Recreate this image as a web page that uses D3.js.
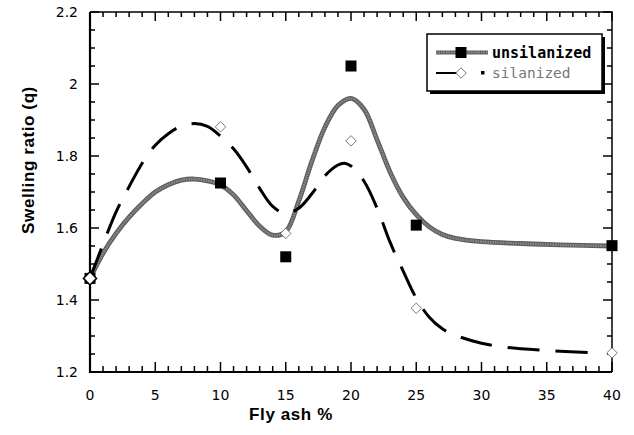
<!DOCTYPE html>
<html>
<head>
<meta charset="utf-8">
<script src="https://cdn.jsdelivr.net/npm/d3@7"></script>
<style>
body { margin: 0; background: #fff; }
svg { display: block; }
.tick-label { font-family: "DejaVu Sans", sans-serif; font-size: 14px; fill: #000; }
.axis-title { font-family: "Liberation Sans", Arial, sans-serif; font-size: 17px; font-weight: bold; letter-spacing: 0.6px; }
</style>
</head>
<body>
<svg id="chart" width="634" height="435"></svg>
<script>
// measured points (fly ash %, swelling ratio)
var flyAsh = [0, 10, 15, 20, 25, 40];
var unsilanized = [1.46, 1.725, 1.52, 2.05, 1.608, 1.551];
var silanized = [1.46, 1.881, 1.585, 1.842, 1.377, 1.253];

// fitted curves
var unsilCurveX = [0, 1, 2, 3, 4, 5, 6, 7, 8, 9, 10, 11, 12, 13, 14, 15, 16, 17, 18, 19, 20, 21, 22, 23, 24, 25, 26, 27, 28, 30, 33, 36, 40];
var unsilCurveY = [1.46, 1.53, 1.585, 1.63, 1.668, 1.70, 1.72, 1.733, 1.736, 1.731, 1.72, 1.692, 1.648, 1.605, 1.58, 1.59, 1.675, 1.785, 1.88, 1.94, 1.96, 1.93, 1.845, 1.755, 1.685, 1.637, 1.603, 1.582, 1.571, 1.562, 1.557, 1.553, 1.55];
var silCurveX = [0, 1, 2, 3, 4, 5, 6, 7, 8, 9, 10, 11, 12, 13, 14, 15, 16, 17, 18, 19, 19.5, 20, 21, 22, 23, 24, 25, 26, 27, 28, 30, 32, 35, 38.4];
var silCurveY = [1.46, 1.555, 1.645, 1.715, 1.78, 1.83, 1.862, 1.883, 1.89, 1.882, 1.855, 1.82, 1.77, 1.71, 1.66, 1.64, 1.655, 1.695, 1.745, 1.775, 1.78, 1.772, 1.73, 1.655, 1.56, 1.48, 1.405, 1.352, 1.32, 1.302, 1.28, 1.268, 1.26, 1.254];

var xTicks = [0, 5, 10, 15, 20, 25, 30, 35, 40];
var yTicks = [1.2, 1.4, 1.6, 1.8, 2, 2.2];

var svg = d3.select("#chart");

var x = d3.scaleLinear().domain([0, 40]).range([90, 612]);
var y = d3.scaleLinear().domain([1.2, 2.2]).range([372, 12]);

var xMinor = d3.range(0, 41, 1).filter(function(d) { return d % 5 != 0; });
var yMinor = d3.range(24, 45, 1).map(function(d) { return d / 20; })
    .filter(function(d) { return Math.abs(d * 5 - Math.round(d * 5)) > 1e-6; });

// ticks on all four sides
var ax = svg.append("g").attr("stroke", "#000").attr("stroke-width", 1.5);
xTicks.forEach(function(d) {
    ax.append("line").attr("x1", x(d)).attr("x2", x(d)).attr("y1", 372).attr("y2", 362);
    ax.append("line").attr("x1", x(d)).attr("x2", x(d)).attr("y1", 12).attr("y2", 21);
});
xMinor.forEach(function(d) {
    ax.append("line").attr("x1", x(d)).attr("x2", x(d)).attr("y1", 372).attr("y2", 366);
    ax.append("line").attr("x1", x(d)).attr("x2", x(d)).attr("y1", 12).attr("y2", 17);
});
yTicks.forEach(function(d) {
    ax.append("line").attr("x1", 90).attr("x2", 99).attr("y1", y(d)).attr("y2", y(d));
    ax.append("line").attr("x1", 612).attr("x2", 603).attr("y1", y(d)).attr("y2", y(d));
});
yMinor.forEach(function(d) {
    ax.append("line").attr("x1", 90).attr("x2", 95).attr("y1", y(d)).attr("y2", y(d));
    ax.append("line").attr("x1", 612).attr("x2", 607).attr("y1", y(d)).attr("y2", y(d));
});

// frame
svg.append("path")
    .attr("d", "M90,12H612V372")
    .attr("fill", "none").attr("stroke", "#000").attr("stroke-width", 1.5);
svg.append("path")
    .attr("d", "M90,12V372H612")
    .attr("fill", "none").attr("stroke", "#000").attr("stroke-width", 2.2);

// tick labels
svg.selectAll("text.xl").data(xTicks).enter().append("text")
    .attr("class", "tick-label")
    .attr("x", function(d) { return x(d); })
    .attr("y", 400)
    .attr("text-anchor", "middle")
    .text(function(d) { return d; });

svg.selectAll("text.yl").data(yTicks).enter().append("text")
    .attr("class", "tick-label")
    .attr("x", 78)
    .attr("y", function(d) { return y(d) + 5; })
    .attr("text-anchor", "end")
    .text(function(d) { return d; });

svg.append("text").attr("class", "axis-title")
    .attr("x", 291).attr("y", 420).attr("text-anchor", "middle")
    .text("Fly ash %");
svg.append("text").attr("class", "axis-title")
    .attr("transform", "translate(34,160) rotate(-90)")
    .attr("text-anchor", "middle")
    .text("Swelling ratio (q)");

var line = d3.line()
    .x(function(d) { return x(d[0]); })
    .y(function(d) { return y(d[1]); })
    .curve(d3.curveCatmullRom.alpha(0.5));

var unsilPts = unsilCurveX.map(function(d, i) { return [d, unsilCurveY[i]]; });
var silPts = silCurveX.map(function(d, i) { return [d, silCurveY[i]]; });

// unsilanized: thick grey
svg.append("path").datum(unsilPts)
    .attr("d", line).attr("fill", "none")
    .attr("stroke", "#5e5e5e").attr("stroke-width", 4.8);
svg.append("path").datum(unsilPts)
    .attr("d", line).attr("fill", "none")
    .attr("stroke", "#8c8c8c").attr("stroke-width", 2.4)
    .attr("stroke-dasharray", "1.5,1");

// silanized: long dashes
svg.append("path").datum(silPts)
    .attr("d", line).attr("fill", "none")
    .attr("stroke", "#000").attr("stroke-width", 3)
    .attr("stroke-dasharray", "32,16");

// markers
var sq = 11;
svg.selectAll("rect.sq").data(flyAsh).enter().append("rect")
    .attr("x", function(d) { return x(d) - sq / 2; })
    .attr("y", function(d, i) { return y(unsilanized[i]) - sq / 2; })
    .attr("width", sq).attr("height", sq)
    .attr("fill", "#000");

var diamond = d3.symbol().type(d3.symbolDiamond2).size(70);
svg.selectAll("path.dm").data(flyAsh).enter().append("path")
    .attr("transform", function(d, i) { return "translate(" + x(d) + "," + y(silanized[i]) + ")"; })
    .attr("d", function(d, i) { return i == 0 ? d3.symbol().type(d3.symbolDiamond2).size(110)() : diamond(); })
    .attr("fill", "#fff")
    .attr("stroke", function(d, i) { return i == 0 ? "#000" : "#555"; })
    .attr("stroke-width", function(d, i) { return i == 0 ? 1.5 : 0.8; });

// legend
var lg = svg.append("g");
lg.append("rect").attr("x", 430).attr("y", 37).attr("width", 175).attr("height", 57).attr("fill", "#000");
lg.append("rect").attr("x", 427).attr("y", 34).attr("width", 175).attr("height", 57)
    .attr("fill", "#fff").attr("stroke", "#000").attr("stroke-width", 1.5);
lg.append("line").attr("x1", 436).attr("x2", 488).attr("y1", 52.5).attr("y2", 52.5)
    .attr("stroke", "#5e5e5e").attr("stroke-width", 4);
lg.append("line").attr("x1", 436).attr("x2", 488).attr("y1", 52.5).attr("y2", 52.5)
    .attr("stroke", "#8c8c8c").attr("stroke-width", 1.8).attr("stroke-dasharray", "1.5,1");
lg.append("rect").attr("x", 455.5).attr("y", 47).attr("width", 11).attr("height", 11).attr("fill", "#000");
lg.append("text").attr("x", 492).attr("y", 58)
    .style("font-family", "'DejaVu Sans Mono', monospace").style("font-size", "15px").style("font-weight", "bold")
    .text("unsilanized");
lg.append("line").attr("x1", 436).attr("x2", 457).attr("y1", 73).attr("y2", 73)
    .attr("stroke", "#000").attr("stroke-width", 2);
lg.append("path").attr("transform", "translate(461,73)").attr("d", diamond())
    .attr("fill", "#fff").attr("stroke", "#555").attr("stroke-width", 0.8);
lg.append("rect").attr("x", 481).attr("y", 71).attr("width", 3.5).attr("height", 3.5).attr("fill", "#000");
lg.append("text").attr("x", 492).attr("y", 78)
    .style("font-family", "'DejaVu Sans Mono', monospace").style("font-size", "14.5px").style("fill", "#777")
    .text("silanized");
</script>
</body>
</html>
